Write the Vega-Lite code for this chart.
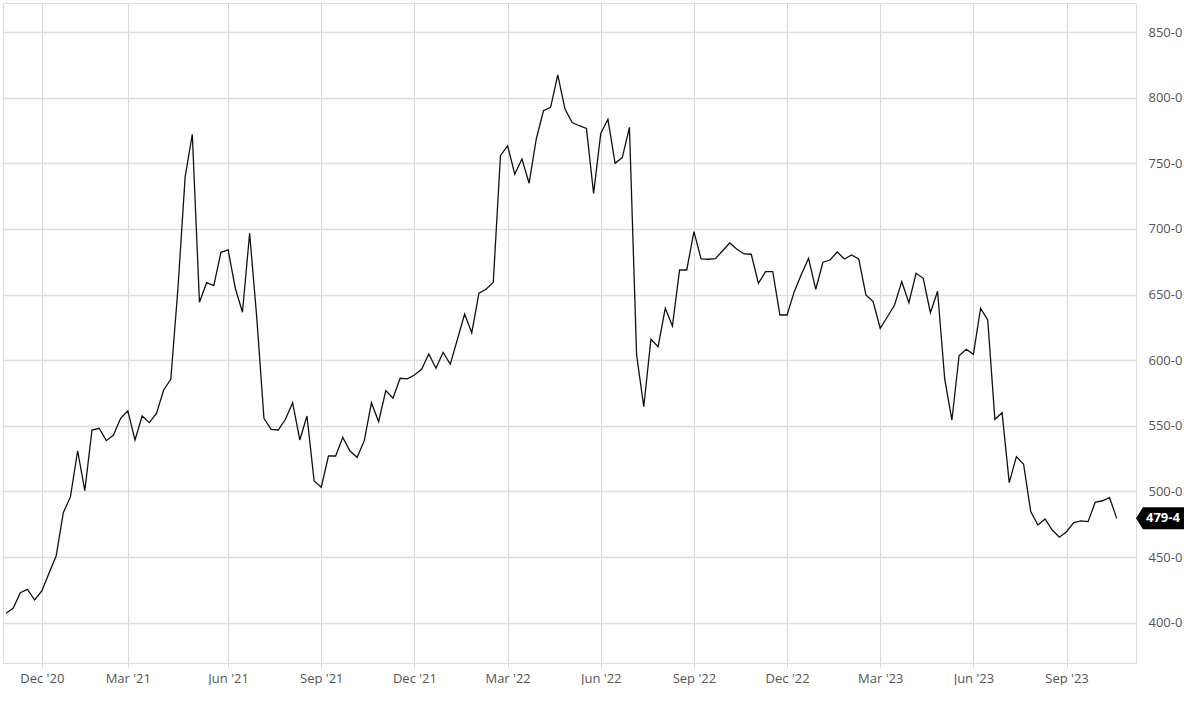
{
  "$schema": "https://vega.github.io/schema/vega-lite/v6.json",
  "width": 1133,
  "height": 660,
  "padding": {"left": 3, "top": 3, "right": 0, "bottom": 0},
  "background": "white",
  "config": {
    "view": {"stroke": "#dcdcdc", "strokeWidth": 1},
    "font": "Open Sans"
  },
  "datasets": {
    "prices": [
      {"date":"2020-11-02","price":407.2},{"date":"2020-11-09","price":411},{"date":"2020-11-16","price":422.9},{"date":"2020-11-23","price":425.4},{"date":"2020-11-30","price":417.3},{"date":"2020-12-07","price":424.2},{"date":"2020-12-14","price":437.6},{"date":"2020-12-21","price":450.8},{"date":"2020-12-28","price":483.8},
      {"date":"2021-01-04","price":496},{"date":"2021-01-11","price":531},{"date":"2021-01-18","price":500.6},{"date":"2021-01-25","price":546.8},{"date":"2021-02-01","price":548.1},{"date":"2021-02-08","price":538.7},{"date":"2021-02-15","price":543},{"date":"2021-02-22","price":555.7},{"date":"2021-03-01","price":561.5},{"date":"2021-03-08","price":539.2},{"date":"2021-03-15","price":557.5},{"date":"2021-03-22","price":552.4},{"date":"2021-03-29","price":559.5},{"date":"2021-04-05","price":577.3},{"date":"2021-04-12","price":585.4},{"date":"2021-04-19","price":655},{"date":"2021-04-26","price":739.6},{"date":"2021-05-03","price":772.1},{"date":"2021-05-10","price":644.1},{"date":"2021-05-17","price":659},{"date":"2021-05-24","price":656.8},{"date":"2021-05-31","price":682.2},{"date":"2021-06-07","price":684},{"date":"2021-06-14","price":654.8},{"date":"2021-06-21","price":636.5},{"date":"2021-06-28","price":696.7},{"date":"2021-07-05","price":632},{"date":"2021-07-12","price":555.7},{"date":"2021-07-19","price":547.3},{"date":"2021-07-26","price":546.8},{"date":"2021-08-02","price":555},{"date":"2021-08-09","price":567.6},{"date":"2021-08-16","price":539.2},{"date":"2021-08-23","price":557.5},{"date":"2021-08-30","price":508},{"date":"2021-09-06","price":503.2},{"date":"2021-09-13","price":527},{"date":"2021-09-20","price":527},{"date":"2021-09-27","price":541.2},{"date":"2021-10-04","price":530.8},{"date":"2021-10-11","price":526},{"date":"2021-10-18","price":538.7},{"date":"2021-10-25","price":567.6},{"date":"2021-11-01","price":553.1},{"date":"2021-11-08","price":576.8},{"date":"2021-11-15","price":571},{"date":"2021-11-22","price":586.2},{"date":"2021-11-29","price":585.7},{"date":"2021-12-06","price":588.7},{"date":"2021-12-13","price":593},{"date":"2021-12-20","price":604.7},{"date":"2021-12-27","price":593.8},
      {"date":"2022-01-03","price":606},{"date":"2022-01-10","price":596.9},{"date":"2022-01-17","price":615.9},{"date":"2022-01-24","price":635.2},{"date":"2022-01-31","price":620.9},{"date":"2022-02-07","price":651},{"date":"2022-02-14","price":654},{"date":"2022-02-21","price":659.3},{"date":"2022-02-28","price":755.8},{"date":"2022-03-07","price":763.4},{"date":"2022-03-14","price":741.8},{"date":"2022-03-21","price":753.3},{"date":"2022-03-28","price":734.8},{"date":"2022-04-04","price":768.5},{"date":"2022-04-11","price":790},{"date":"2022-04-18","price":792.6},{"date":"2022-04-25","price":817.3},{"date":"2022-05-02","price":791.5},{"date":"2022-05-09","price":781},{"date":"2022-05-16","price":778.6},{"date":"2022-05-23","price":776.6},{"date":"2022-05-30","price":727.1},{"date":"2022-06-06","price":772.8},{"date":"2022-06-13","price":783.5},{"date":"2022-06-20","price":750},{"date":"2022-06-27","price":754.3},{"date":"2022-07-04","price":777.4},{"date":"2022-07-11","price":604},{"date":"2022-07-18","price":564.6},{"date":"2022-07-25","price":615.9},{"date":"2022-08-01","price":610.3},{"date":"2022-08-08","price":639.5},{"date":"2022-08-15","price":626},{"date":"2022-08-22","price":668.7},{"date":"2022-08-29","price":668.7},{"date":"2022-09-05","price":697.9},{"date":"2022-09-12","price":677.1},{"date":"2022-09-19","price":676.9},{"date":"2022-09-26","price":677.3},{"date":"2022-10-03","price":683.4},{"date":"2022-10-10","price":689.3},{"date":"2022-10-17","price":684.5},{"date":"2022-10-24","price":680.9},{"date":"2022-10-31","price":680.7},{"date":"2022-11-07","price":658.6},{"date":"2022-11-14","price":667.4},{"date":"2022-11-21","price":667.4},{"date":"2022-11-28","price":634.4},{"date":"2022-12-05","price":634.4},{"date":"2022-12-12","price":652.2},{"date":"2022-12-19","price":665.4},{"date":"2022-12-26","price":677.6},
      {"date":"2023-01-02","price":654},{"date":"2023-01-09","price":674.6},{"date":"2023-01-16","price":676.3},{"date":"2023-01-23","price":682.4},{"date":"2023-01-30","price":677.1},{"date":"2023-02-06","price":680.1},{"date":"2023-02-13","price":677.1},{"date":"2023-02-20","price":649.7},{"date":"2023-02-27","price":644.6},{"date":"2023-03-06","price":624.3},{"date":"2023-03-13","price":633.1},{"date":"2023-03-20","price":642},{"date":"2023-03-27","price":659.8},{"date":"2023-04-03","price":643.8},{"date":"2023-04-10","price":666.2},{"date":"2023-04-17","price":662.4},{"date":"2023-04-24","price":636.2},{"date":"2023-05-01","price":652.5},{"date":"2023-05-08","price":585.5},{"date":"2023-05-15","price":554.4},{"date":"2023-05-22","price":603.4},{"date":"2023-05-29","price":608.3},{"date":"2023-06-05","price":604.5},{"date":"2023-06-12","price":639.5},{"date":"2023-06-19","price":630.6},{"date":"2023-06-26","price":555},{"date":"2023-07-03","price":560},{"date":"2023-07-10","price":506.7},{"date":"2023-07-17","price":526.5},{"date":"2023-07-24","price":520.9},{"date":"2023-07-31","price":484.6},{"date":"2023-08-07","price":474.4},{"date":"2023-08-14","price":479},{"date":"2023-08-21","price":470.6},{"date":"2023-08-28","price":465.1},{"date":"2023-09-04","price":469.3},{"date":"2023-09-11","price":476.2},{"date":"2023-09-18","price":477.5},{"date":"2023-09-25","price":477},{"date":"2023-10-02","price":491.7},{"date":"2023-10-09","price":492.9},{"date":"2023-10-16","price":495.2},{"date":"2023-10-23","price":479.5}
    ],
    "last": [{"price": 479.5, "label": "479-4"}]
  },
  "layer": [
    {
      "data": {"name": "prices"},
      "mark": {"type": "line", "color": "#111111", "strokeWidth": 1.3, "interpolate": "linear"},
      "encoding": {
        "x": {
          "field": "date",
          "type": "temporal",
          "scale": {
            "type": "utc",
            "domain": [
              {"year": 2020, "month": 10, "date": 30, "hours": 2, "utc": true},
              {"year": 2023, "month": 11, "date": 10, "hours": 20, "utc": true}
            ]
          },
          "axis": {
            "title": null,
            "values": [
              {"year": 2020, "month": 12, "date": 7, "utc": true},
              {"year": 2021, "month": 3, "date": 1, "utc": true},
              {"year": 2021, "month": 6, "date": 7, "utc": true},
              {"year": 2021, "month": 9, "date": 6, "utc": true},
              {"year": 2021, "month": 12, "date": 6, "utc": true},
              {"year": 2022, "month": 3, "date": 7, "utc": true},
              {"year": 2022, "month": 6, "date": 6, "utc": true},
              {"year": 2022, "month": 9, "date": 5, "utc": true},
              {"year": 2022, "month": 12, "date": 5, "utc": true},
              {"year": 2023, "month": 3, "date": 6, "utc": true},
              {"year": 2023, "month": 6, "date": 5, "utc": true},
              {"year": 2023, "month": 9, "date": 4, "utc": true}
            ],
            "format": "%b '%y",
            "grid": true,
            "gridColor": "#d8d8d8",
            "gridWidth": 1,
            "domain": false,
            "ticks": true,
            "tickSize": 4,
            "tickColor": "#d8d8d8",
            "labelFont": "Open Sans",
            "labelFontSize": 13,
            "labelColor": "#555555",
            "labelPadding": 5,
            "labelFlush": false
          }
        },
        "y": {
          "field": "price",
          "type": "quantitative",
          "scale": {"domain": [369.3, 872.1], "nice": false, "zero": false},
          "axis": {
            "orient": "right",
            "title": null,
            "values": [400, 450, 500, 550, 600, 650, 700, 750, 800, 850],
            "labelExpr": "datum.value + '-0'",
            "grid": true,
            "gridColor": "#dedede",
            "gridWidth": 1.5,
            "domain": false,
            "ticks": false,
            "labelFont": "Open Sans",
            "labelFontSize": 13,
            "labelColor": "#555555",
            "labelPadding": 12,
            "labelAlign": "left",
            "labelBaseline": "middle"
          }
        }
      }
    },
    {
      "data": {"name": "last"},
      "mark": {
        "type": "point",
        "shape": "M0,0 L0.29,-0.458 L2,-0.458 L2,0.458 L0.29,0.458 Z",
        "size": 2304,
        "filled": true,
        "color": "#000000",
        "opacity": 1,
        "strokeWidth": 0
      },
      "encoding": {
        "x": {"datum": {"year": 2023, "month": 11, "date": 10, "hours": 20, "utc": true}, "type": "temporal"},
        "y": {"field": "price", "type": "quantitative"}
      }
    },
    {
      "data": {"name": "last"},
      "mark": {
        "type": "text",
        "align": "left",
        "baseline": "middle",
        "dx": 10,
        "color": "#ffffff",
        "font": "Open Sans",
        "fontSize": 13,
        "fontWeight": "bold"
      },
      "encoding": {
        "x": {"datum": {"year": 2023, "month": 11, "date": 10, "hours": 20, "utc": true}, "type": "temporal"},
        "y": {"field": "price", "type": "quantitative"},
        "text": {"field": "label", "type": "nominal"}
      }
    }
  ]
}
